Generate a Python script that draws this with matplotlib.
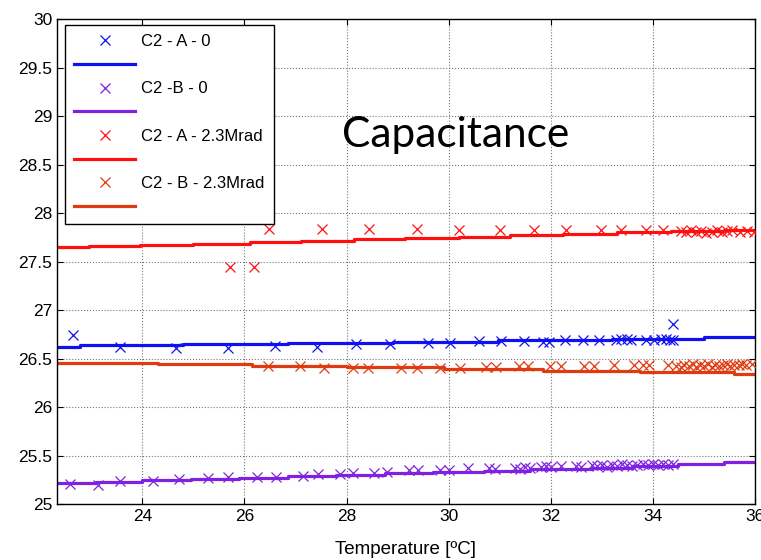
import matplotlib
matplotlib.use("Agg")
import matplotlib.pyplot as plt

# measured points, C2 - A - 0
a0_t = [22.65, 23.57, 24.65, 25.67, 26.59, 27.43, 28.18, 28.86, 29.59, 30.02, 30.59, 31.02,
        31.47, 31.84, 31.96, 32.27, 32.63, 32.94, 33.27, 33.37, 33.49, 33.57, 33.86, 34.02,
        34.16, 34.25, 34.33, 34.40, 34.39]
a0_c = [26.74, 26.62, 26.61, 26.61, 26.63, 26.62, 26.65, 26.65, 26.66, 26.66, 26.68, 26.68,
        26.68, 26.67, 26.67, 26.69, 26.69, 26.69, 26.69, 26.70, 26.70, 26.69, 26.69, 26.69,
        26.70, 26.70, 26.69, 26.69, 26.86]

# C2 -B - 0
b0_t = [22.59, 23.14, 23.57, 24.20, 24.71, 25.29, 25.67, 26.25, 26.61, 27.14, 27.45, 27.88,
        28.12, 28.53, 28.80, 29.22, 29.40, 29.84, 30.00, 30.37, 30.80, 30.90, 31.30, 31.40,
        31.50, 31.60, 31.80, 31.90, 32.00, 32.20, 32.50, 32.60, 32.80, 32.90, 33.00, 33.10,
        33.20, 33.30, 33.40, 33.50, 33.60, 33.70, 33.80, 33.90, 34.00, 34.10, 34.20, 34.30,
        34.40]
b0_c = [25.21, 25.20, 25.24, 25.24, 25.26, 25.27, 25.28, 25.28, 25.28, 25.29, 25.31, 25.31,
        25.32, 25.32, 25.33, 25.35, 25.35, 25.35, 25.35, 25.37, 25.37, 25.36, 25.37, 25.36,
        25.38, 25.37, 25.38, 25.39, 25.38, 25.39, 25.39, 25.38, 25.40, 25.39, 25.40, 25.38,
        25.40, 25.39, 25.41, 25.40, 25.39, 25.40, 25.41, 25.40, 25.41, 25.40, 25.41, 25.40,
        25.41]

# C2 - A - 2.3Mrad
a23_t = [25.71, 26.18, 26.49, 27.51, 28.45, 29.39, 30.20, 31.00, 31.67, 32.29, 32.98, 33.37,
         33.86, 34.20, 34.55, 34.65, 34.75, 34.85, 34.95, 35.05, 35.15, 35.25, 35.35, 35.45,
         35.55, 35.70, 35.85, 35.98]
a23_c = [27.44, 27.44, 27.84, 27.84, 27.84, 27.84, 27.83, 27.82, 27.83, 27.83, 27.82, 27.82,
         27.82, 27.82, 27.81, 27.80, 27.82, 27.80, 27.81, 27.79, 27.80, 27.82, 27.80, 27.81,
         27.82, 27.80, 27.81, 27.80]

# C2 - B - 2.3Mrad
b23_t = [26.47, 27.08, 27.55, 28.12, 28.43, 29.06, 29.39, 29.84, 30.22, 30.73, 30.92, 31.37,
         31.55, 31.98, 32.20, 32.65, 32.84, 33.24, 33.63, 33.80, 33.92, 34.30, 34.45, 34.55,
         34.62, 34.70, 34.78, 34.85, 34.92, 35.00, 35.08, 35.15, 35.22, 35.30, 35.38, 35.45,
         35.52, 35.60, 35.68, 35.75, 35.82, 35.95]
b23_c = [26.42, 26.42, 26.40, 26.40, 26.40, 26.40, 26.40, 26.40, 26.40, 26.41, 26.41, 26.42,
         26.42, 26.42, 26.42, 26.42, 26.42, 26.43, 26.43, 26.43, 26.43, 26.43, 26.42, 26.41,
         26.43, 26.42, 26.44, 26.41, 26.43, 26.42, 26.44, 26.41, 26.43, 26.42, 26.43, 26.44,
         26.42, 26.43, 26.43, 26.44, 26.43, 26.44]

# fitted curves (stair-stepped as in the original)
a0_fit_t = [22.33, 22.78, 24.80, 26.86, 28.92, 30.96, 33.20, 35.00, 36.00]
a0_fit_c = [26.620, 26.635, 26.650, 26.660, 26.675, 26.690, 26.700, 26.722, 26.722]

b0_fit_t = [22.33, 23.10, 24.00, 24.95, 25.90, 26.85, 27.80, 28.75, 29.70, 30.70, 31.60,
            32.80, 33.60, 34.50, 35.40, 36.00]
b0_fit_c = [25.220, 25.230, 25.245, 25.258, 25.272, 25.286, 25.300, 25.315, 25.330, 25.345,
            25.360, 25.375, 25.390, 25.415, 25.432, 25.432]

a23_fit_t = [22.33, 22.95, 23.95, 25.00, 26.10, 27.10, 28.15, 29.15, 30.20, 31.20, 32.25,
             33.30, 34.35, 35.40, 36.00]
a23_fit_c = [27.650, 27.660, 27.670, 27.685, 27.700, 27.715, 27.730, 27.742, 27.755, 27.770,
             27.785, 27.800, 27.815, 27.830, 27.830]

b23_fit_t = [22.33, 24.30, 26.15, 28.00, 29.90, 31.85, 33.75, 35.60, 36.00]
b23_fit_c = [26.455, 26.440, 26.425, 26.410, 26.395, 26.375, 26.360, 26.340, 26.340]

labels = ["C2 - A - 0", "C2 -B - 0", "C2 - A - 2.3Mrad", "C2 - B - 2.3Mrad"]
colors = ["#1010f0", "#8020e0", "#ff1010", "#e03a10"]

x_ticks = [24, 26, 28, 30, 32, 34, 36]
y_ticks = [25, 25.5, 26, 26.5, 27, 27.5, 28, 28.5, 29, 29.5, 30]
y_tick_labels = ["25", "25.5", "26", "26.5", "27", "27.5", "28", "28.5", "29", "29.5", "30"]

plt.rcParams['font.family'] = ['Liberation Sans', 'DejaVu Sans']

fig = plt.figure(figsize=(7.61, 5.6), dpi=100)
ax = fig.add_axes([0.075, 0.1, 0.917, 0.866])

series = [(a0_t, a0_c, a0_fit_t, a0_fit_c),
          (b0_t, b0_c, b0_fit_t, b0_fit_c),
          (a23_t, a23_c, a23_fit_t, a23_fit_c),
          (b23_t, b23_c, b23_fit_t, b23_fit_c)]

handles = []
leg_labels = []
for (t, c, ft, fc), lab, col in zip(series, labels, colors):
    pts, = ax.plot(t, c, 'x', color=col, markersize=7, markeredgewidth=0.9, zorder=3)
    fit, = ax.plot(ft, fc, '-', color=col, linewidth=2.3, drawstyle='steps-post', zorder=2)
    handles += [pts, fit]
    leg_labels += [lab, ""]

ax.set_xlim(22.33, 36)
ax.set_ylim(25, 30)
ax.set_xticks(x_ticks)
ax.set_yticks(y_ticks)
ax.set_yticklabels(y_tick_labels)
ax.tick_params(direction='in', top=True, right=True, labelsize=12.5, length=4, color='black')
ax.grid(True, linestyle=':', color='#777777', linewidth=0.8)
for s in ax.spines.values():
    s.set_linewidth(1.0)

ax.set_xlabel("Temperature [ºC]", fontsize=13.5, labelpad=12)

leg = ax.legend(handles, leg_labels, loc='upper left', bbox_to_anchor=(0.0115, 0.988),
                borderaxespad=0, fontsize=12, handlelength=3.66, handletextpad=0.36,
                labelspacing=0.52, borderpad=0.55, fancybox=False, framealpha=1)
leg.get_frame().set_edgecolor('black')
leg.get_frame().set_linewidth(1.0)

fig.text(0.599, 0.7375, "Capacitance", fontsize=30.5, family=['Lato', 'DejaVu Sans'],
         ha='center', va='baseline')

fig.savefig("out.png", dpi=100)
